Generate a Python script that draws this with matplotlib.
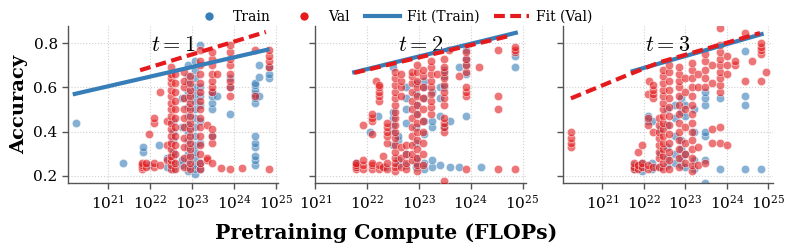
import numpy as np
import matplotlib
matplotlib.use('Agg')
import matplotlib.pyplot as plt
from matplotlib.lines import Line2D
from matplotlib.ticker import LogLocator, NullLocator

plt.rcParams['font.family'] = 'DejaVu Serif'
plt.rcParams['mathtext.fontset'] = 'cm'

# ---- data: (log10 FLOPs, [accuracies]) columns ----
p1_train = [(20.24, [0.44]), (21.35, [0.26]), (21.83, [0.31, 0.33]), (21.98, [0.25]),
            (22.2, [0.34]), (22.4, [0.24, 0.28]),
            (22.55, [0.23, 0.26, 0.29, 0.31, 0.36, 0.4, 0.45]),
            (22.75, [0.25, 0.27, 0.42, 0.55]),
            (22.9, [0.22, 0.24, 0.27, 0.3, 0.33, 0.36, 0.4, 0.43, 0.47, 0.51, 0.55, 0.58, 0.62, 0.65, 0.7]),
            (23.06, [0.21, 0.23, 0.25, 0.28, 0.31, 0.34, 0.38, 0.42, 0.46, 0.5, 0.54, 0.57, 0.6, 0.64, 0.68, 0.72]),
            (23.2, [0.23, 0.26, 0.35, 0.45, 0.52, 0.56, 0.6, 0.79]),
            (23.47, [0.38, 0.5, 0.53, 0.56, 0.58]), (23.6, [0.56]),
            (23.9, [0.48, 0.6, 0.64]),
            (24.5, [0.25, 0.27, 0.29, 0.33, 0.35, 0.38, 0.53, 0.55, 0.57, 0.59, 0.61, 0.62]),
            (24.6, [0.56, 0.645, 0.70]), (24.84, [0.64, 0.66, 0.69])]
p1_val = [(21.8, [0.23, 0.24, 0.25, 0.26]), (21.9, [0.24, 0.26]), (21.98, [0.39]),
          (22.1, [0.24, 0.26, 0.44, 0.46]), (22.24, [0.25, 0.58]), (22.4, [0.27, 0.34, 0.45]),
          (22.5, [0.23, 0.25, 0.27, 0.29, 0.32, 0.35, 0.38, 0.41, 0.44, 0.47, 0.5, 0.53, 0.56, 0.59, 0.62, 0.64, 0.66, 0.69]),
          (22.6, [0.23, 0.26, 0.3, 0.34, 0.38, 0.42, 0.46, 0.5, 0.54, 0.58, 0.62, 0.66]),
          (22.8, [0.24, 0.28, 0.33, 0.37, 0.42, 0.46, 0.5, 0.55, 0.6, 0.63, 0.67]),
          (22.94, [0.23, 0.26, 0.29, 0.32, 0.35, 0.38, 0.41, 0.44, 0.47, 0.5, 0.53, 0.56, 0.59, 0.62, 0.65]),
          (23.2, [0.23, 0.26, 0.3, 0.34, 0.38, 0.42, 0.46, 0.5, 0.54, 0.58, 0.62, 0.66, 0.7, 0.72, 0.77]),
          (23.35, [0.27, 0.28, 0.43]),
          (23.47, [0.26, 0.35, 0.38, 0.41, 0.58, 0.6, 0.63, 0.66, 0.7, 0.73, 0.76]),
          (23.6, [0.66]), (23.7, [0.235]),
          (23.9, [0.23, 0.56, 0.6, 0.63, 0.66, 0.7, 0.73, 0.76, 0.79]),
          (24.19, [0.235]), (24.5, [0.56, 0.77]),
          (24.84, [0.23, 0.69, 0.72, 0.74, 0.77])]

p2_train = [(21.79, [0.24, 0.26]), (22.05, [0.4]), (22.2, [0.47]), (22.35, [0.24]),
            (22.5, [0.34, 0.4, 0.43, 0.46, 0.49, 0.69]), (22.6, [0.25, 0.27, 0.36, 0.38]),
            (22.75, [0.25, 0.3, 0.44, 0.5, 0.55, 0.6]),
            (22.95, [0.24, 0.26, 0.28, 0.35, 0.42, 0.48, 0.52, 0.57, 0.62]),
            (23.1, [0.23, 0.26, 0.39, 0.45, 0.55, 0.6, 0.63]),
            (23.25, [0.24, 0.27, 0.42, 0.45, 0.58]), (23.4, [0.25, 0.47, 0.55, 0.6]),
            (23.48, [0.42, 0.6, 0.65, 0.68]), (23.6, [0.45, 0.24]), (23.77, [0.24, 0.69]),
            (23.9, [0.47, 0.66, 0.7, 0.73, 0.77]), (24.2, [0.24]), (24.85, [0.69, 0.74])]
p2_val = [(21.79, [0.23, 0.24, 0.25, 0.26]), (21.92, [0.23, 0.25, 0.27, 0.43]),
          (22.1, [0.23, 0.25, 0.26, 0.39, 0.45, 0.46, 0.48]), (22.17, [0.63]),
          (22.23, [0.23, 0.25, 0.54, 0.56, 0.58, 0.6, 0.61]), (22.3, [0.24, 0.29]),
          (22.38, [0.23, 0.26, 0.35, 0.38, 0.4, 0.42, 0.44]),
          (22.54, [0.22, 0.24, 0.26, 0.28, 0.31, 0.34, 0.37, 0.4, 0.43, 0.46, 0.49, 0.52, 0.55, 0.58, 0.61, 0.64, 0.67]),
          (22.65, [0.24, 0.28, 0.33, 0.56, 0.6, 0.63, 0.66]), (22.75, [0.23, 0.26, 0.3, 0.34]),
          (22.87, [0.27, 0.3, 0.34, 0.38, 0.42, 0.46, 0.5, 0.54, 0.58, 0.62, 0.65, 0.67]),
          (22.97, [0.22, 0.25, 0.28, 0.32, 0.36, 0.4, 0.44, 0.48, 0.52, 0.56, 0.6, 0.63, 0.67, 0.7]),
          (23.08, [0.25, 0.3, 0.35, 0.4, 0.45, 0.5, 0.55, 0.6, 0.65, 0.68]),
          (23.23, [0.48, 0.51, 0.54, 0.57, 0.6, 0.63, 0.66, 0.69, 0.72]), (23.35, [0.66]),
          (23.48, [0.178, 0.4, 0.42, 0.44, 0.46, 0.52, 0.55, 0.58, 0.61, 0.64, 0.67, 0.69, 0.73]),
          (23.58, [0.77]), (23.77, [0.65]), (23.9, [0.23, 0.56, 0.58, 0.6, 0.67, 0.7, 0.73, 0.76]),
          (24.15, [0.69]), (24.52, [0.23, 0.5, 0.56, 0.77]), (24.85, [0.23, 0.76, 0.77, 0.78])]

p3_train = [(21.75, [0.23, 0.25]), (21.95, [0.22, 0.24, 0.26]), (22.1, [0.45, 0.47]),
            (22.2, [0.23, 0.26, 0.45]), (22.4, [0.24, 0.3, 0.41]),
            (22.55, [0.25, 0.28, 0.33, 0.43, 0.5]), (22.75, [0.26, 0.3, 0.38, 0.46, 0.52]),
            (22.9, [0.25, 0.28, 0.32, 0.36, 0.49, 0.55]), (23.0, [0.24, 0.3, 0.47, 0.52]),
            (23.2, [0.23, 0.27, 0.4, 0.5]), (23.48, [0.17, 0.27, 0.38, 0.4, 0.52, 0.55, 0.58]),
            (23.84, [0.23, 0.55]), (24.45, [0.23, 0.52, 0.56, 0.765]), (24.82, [0.23])]
p3_val = [(20.24, [0.33, 0.35, 0.37, 0.4]), (21.75, [0.23, 0.24, 0.26]), (21.85, [0.23, 0.25, 0.31]),
          (21.95, [0.24, 0.26, 0.34]), (22.1, [0.23, 0.25, 0.43, 0.46, 0.57]), (22.13, [0.63]),
          (22.23, [0.24, 0.4, 0.55, 0.57, 0.59, 0.61]),
          (22.37, [0.24, 0.28, 0.31, 0.34, 0.37, 0.4, 0.43, 0.46]),
          (22.47, [0.23, 0.26, 0.29, 0.32, 0.35, 0.38, 0.41, 0.44, 0.47, 0.5, 0.53, 0.56, 0.59, 0.62, 0.65, 0.68]),
          (22.6, [0.23, 0.27, 0.31, 0.35, 0.39, 0.43, 0.47, 0.51, 0.55, 0.59, 0.63, 0.67, 0.7]),
          (22.85, [0.24, 0.28, 0.32, 0.36, 0.4, 0.44, 0.48, 0.52, 0.56, 0.6, 0.63, 0.66, 0.69]),
          (23.0, [0.26, 0.3, 0.35, 0.42, 0.5, 0.58, 0.64]),
          (23.17, [0.22, 0.25, 0.28, 0.32, 0.36, 0.4, 0.44, 0.48, 0.52, 0.56, 0.6, 0.64, 0.68, 0.71]),
          (23.3, [0.25, 0.33, 0.6, 0.66]), (23.48, [0.26, 0.6, 0.64, 0.68, 0.72, 0.75]),
          (23.65, [0.35, 0.41, 0.62, 0.7]),
          (23.84, [0.35, 0.42, 0.58, 0.61, 0.64, 0.67, 0.7, 0.73, 0.76, 0.79, 0.87]),
          (24.0, [0.34, 0.66, 0.7, 0.74]), (24.2, [0.7, 0.72]), (24.44, [0.63, 0.845]),
          (24.6, [0.72]), (24.82, [0.63, 0.75, 0.77, 0.78, 0.80]), (24.95, [0.67])]

# fitted curves (log10 FLOPs, accuracy)
fit_train_x = [[20.2, 24.8], [21.75, 24.87], [21.73, 24.84]]
fit_train_y = [[0.57, 0.77], [0.668, 0.846], [0.673, 0.84]]
fit_val_x = [[21.76, 24.76], [21.75, 24.8], [20.24, 21.6, 22.4, 24.8]]
fit_val_y = [[0.677, 0.85], [0.665, 0.835], [0.55, 0.655, 0.714, 0.845]]

titles = ['$t=1$', '$t=2$', '$t=3$']
xlims = [(1.1e20, 1.15e25), (1e21, 1.15e25), (1.1e20, 1.3e25)]

BLUE = '#377eb8'
RED = '#e41a1c'


def unpack(cols):
    xs, ys = [], []
    for lx, vals in cols:
        for v in vals:
            xs.append(10 ** lx)
            ys.append(v)
    return xs, ys


fig, axes = plt.subplots(1, 3, figsize=(7.92, 2.52), dpi=100, sharey=True)
fig.subplots_adjust(left=0.086, right=0.976, top=0.897, bottom=0.274, wspace=0.176)

panels = [(p1_train, p1_val), (p2_train, p2_val), (p3_train, p3_val)]
for i, ax in enumerate(axes):
    tr, va = panels[i]
    tx, ty = unpack(tr)
    vx, vy = unpack(va)
    ax.scatter(tx, ty, s=36, color=BLUE, alpha=0.6, edgecolor='white', linewidth=0.5, zorder=2)
    ax.scatter(vx, vy, s=36, color=RED, alpha=0.6, edgecolor='white', linewidth=0.5, zorder=3)
    ax.plot([10 ** x for x in fit_train_x[i]], fit_train_y[i], color=BLUE, lw=3, zorder=4)
    ax.plot([10 ** x for x in fit_val_x[i]], fit_val_y[i], color=RED, lw=3,
            dashes=(2.6, 1.3), zorder=5)
    ax.set_xscale('log')
    ax.set_xlim(*xlims[i])
    ax.set_ylim(0.168, 0.877)
    ax.xaxis.set_major_locator(LogLocator(base=10, numticks=20))
    ax.xaxis.set_minor_locator(NullLocator())
    ax.set_yticks([0.2, 0.4, 0.6, 0.8])
    ax.grid(True, ls=':', color='#d0d0d0', lw=0.8, zorder=0)
    ax.set_axisbelow(True)
    for s in ['top', 'right']:
        ax.spines[s].set_visible(False)
    for s in ['left', 'bottom']:
        ax.spines[s].set_color('#555555')
        ax.spines[s].set_linewidth(1.0)
    ax.tick_params(labelsize=11, color='#555555', length=4, width=1)
    ax.text(0.5, 0.88, titles[i], transform=ax.transAxes, ha='center', va='center', fontsize=16)

axes[0].set_ylabel('Accuracy', fontsize=14, fontweight='bold')
fig.text(0.488, 0.075, 'Pretraining Compute (FLOPs)', ha='center', va='center',
         fontsize=14.7, fontweight='bold')

handles = [Line2D([], [], marker='o', ls='', color=BLUE, markersize=7, markeredgecolor='white'),
           Line2D([], [], marker='o', ls='', color=RED, markersize=7, markeredgecolor='white'),
           Line2D([], [], color=BLUE, lw=3),
           Line2D([], [], color=RED, lw=3, dashes=(2.6, 1.3))]
fig.legend(handles, ['Train', 'Val', 'Fit (Train)', 'Fit (Val)'], ncol=4, frameon=False,
           loc='center', bbox_to_anchor=(0.495, 0.932), fontsize=10, handlelength=2.5,
           columnspacing=1.1, handletextpad=0.5)

fig.savefig('out.png', dpi=100)
